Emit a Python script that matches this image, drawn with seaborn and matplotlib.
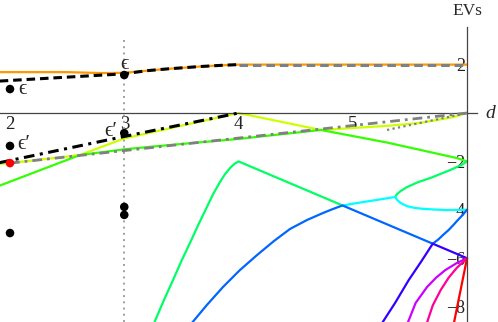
import numpy as np
import matplotlib
matplotlib.use("Agg")
import matplotlib.pyplot as plt
import matplotlib.colors as mcolors
import seaborn as sns

# eigenvalue branches (x = d, y = EV)
orange_x = [1.91, 2.5, 2.8, 3.0, 3.2, 3.37, 3.66, 3.85, 4.0, 6.0]
orange_y = [1.69, 1.69, 1.65, 1.66, 1.75, 1.82, 1.92, 1.97, 2.0, 2.0]

yellow_x = [1.91, 2.0, 2.61, 3.0, 4.0, 4.72, 5.0, 5.3, 5.59, 5.88, 6.0]
yellow_y = [-2.1, -2.07, -1.74, -1.05, 0.0, -0.70, -0.62, -0.53, -0.41, -0.17, 0.0]

green_x = [1.91, 2.61, 3.0, 3.31, 4.0, 4.72, 5.3, 5.91, 6.0]
green_y = [-3.0, -1.74, -1.50, -1.36, -1.07, -0.70, -1.22, -1.86, -2.0]

spring_x = [3.25, 3.35, 3.427, 3.50, 3.575, 3.65, 3.724, 3.78, 3.838,
            3.88, 3.926, 3.965, 4.0, 4.91]
spring_y = [-8.8, -7.7, -6.90, -6.12, -5.37, -4.60, -3.88, -3.33, -2.85,
            -2.54, -2.27, -2.10, -2.0, -3.82]
spring2_x = [5.37, 5.39, 5.42, 5.475, 5.57, 5.676, 5.851, 5.95, 6.0]
spring2_y = [-3.47, -3.34, -3.22, -3.06, -2.86, -2.69, -2.36, -2.15, -2.0]

cyan_x = [4.91, 5.09, 5.24, 5.37, 5.39, 5.42, 5.475, 5.54, 5.615, 5.72, 5.825, 6.0]
cyan_y = [-3.82, -3.68, -3.57, -3.47, -3.60, -3.72, -3.85, -3.92, -3.96, -3.99, -4.01, -4.0]

azure_x = [3.57, 3.72, 3.864, 4.01, 4.162, 4.31, 4.451, 4.60, 4.74, 4.83, 4.91,
           5.70, 5.75, 5.79, 5.84, 5.88, 5.92, 5.96, 6.0]
azure_y = [-8.8, -7.95, -7.19, -6.50, -5.87, -5.29, -4.79, -4.42, -4.13, -3.96, -3.82,
           -5.40, -5.22, -5.04, -4.83, -4.63, -4.42, -4.22, -4.0]

violet_x = [5.24, 5.37, 5.49, 5.60, 5.70, 6.0]
violet_y = [-8.8, -7.85, -6.9, -6.13, -5.40, -6.0]

magenta_x = [5.47, 5.55, 5.65, 5.73, 5.81, 5.91, 6.0]
magenta_y = [-8.8, -7.85, -7.19, -6.80, -6.49, -6.2, -6.0]

pink_x = [5.64, 5.70, 5.77, 5.84, 5.91, 6.0]
pink_y = [-8.8, -7.95, -7.31, -6.80, -6.4, -6.0]

red_x = [5.88, 6.0]
red_y = [-8.8, -6.0]

# approximations (black / gray)
black_dash_x = [1.91, 3.0, 3.2, 3.37, 3.66, 3.85, 4.0]
black_dash_y = [1.32, 1.62, 1.75, 1.82, 1.92, 1.97, 2.0]
gray_dash_x = [4.0, 6.0]
gray_dash_y = [2.0, 2.0]
black_dashdot_x = [1.91, 3.0, 4.0]
black_dashdot_y = [-2.05, -0.97, 0.0]
gray_dashdot_x = [2.0, 6.0]
gray_dashdot_y = [-2.07, 0.0]
gray_dot_x = [5.30, 6.0]
gray_dot_y = [-0.70, 0.0]

# points
dots_x = [2, 3, 2, 3, 3, 3, 2]
dots_y = [0.99, 1.57, -1.36, -0.83, -3.88, -4.21, -4.96]
red_dot = (2, -2.07)

xticks = [2, 3, 4, 5]
yticks = [-8, -6, -4, -2, 2]

sns.set_style("white")
plt.rcParams['font.family'] = ['Liberation Serif', 'DejaVu Serif']

fig = plt.figure(figsize=(4.98, 3.22), dpi=100)
ax = fig.add_axes([0, 0, 1, 1])


def hue(h):
    return mcolors.hsv_to_rgb((h % 1.0, 1, 1)) if h < 1 else (1, 0, 0)


def curve(x, y, color, lw=1.6, z=2, **kw):
    sns.lineplot(x=x, y=y, sort=False, estimator=None, color=color,
                 linewidth=lw, ax=ax, zorder=z, legend=False, **kw)


# vertical dotted line at d = 3
curve([3, 3], [3.0, -8.8], "#a0a0a0", lw=1.4, z=1, linestyle=(0, (1, 2.2)))

curve(orange_x, orange_y, hue(0.1))
curve(yellow_x, yellow_y, hue(0.2))
curve(green_x, green_y, hue(0.3))
curve(spring_x, spring_y, hue(0.4))
curve(spring2_x, spring2_y, hue(0.4))
curve(cyan_x, cyan_y, hue(0.5))
curve(azure_x, azure_y, hue(0.6))
curve(violet_x, violet_y, hue(0.7))
curve(magenta_x, magenta_y, hue(0.8))
curve(pink_x, pink_y, hue(0.9))
curve(red_x, red_y, hue(1.0))

curve(black_dash_x, black_dash_y, "black", lw=2.2, z=3, linestyle=(0, (2.8, 1.6)))
curve(gray_dash_x, gray_dash_y, "gray", lw=2.2, z=3, linestyle=(0, (2.8, 1.6)))
curve(black_dashdot_x, black_dashdot_y, "black", lw=2.2, z=3,
      linestyle=(0, (3.5, 1.8, 1, 1.8)))
curve(gray_dashdot_x, gray_dashdot_y, "gray", lw=2.0, z=3,
      linestyle=(0, (3.5, 1.8, 1, 1.8)))
curve(gray_dot_x, gray_dot_y, "gray", lw=1.6, z=3, linestyle=(0, (1, 1.5)))

sns.scatterplot(x=dots_x, y=dots_y, color="black", s=38, edgecolor="none",
                ax=ax, zorder=4)
sns.scatterplot(x=[red_dot[0]], y=[red_dot[1]], color="red", s=38,
                edgecolor="none", ax=ax, zorder=4)

# labels of the points
eps = "\u03f5"
ax.text(2.11, 0.97, eps, fontsize=15, ha="center", va="center")
ax.text(3.0, 2.0, eps, fontsize=15, ha="center", va="center")
ax.text(2.12, -1.29, eps + "\u2032", fontsize=15, ha="center", va="center")
ax.text(2.88, -0.75, eps + "\u2032", fontsize=15, ha="center", va="center")

# axes in Mathematica style: crossing at (6, 0)
ax.set_xlim(1.9125, 6.271)
ax.set_ylim(-8.636, 4.67)
for s in ["top", "right"]:
    ax.spines[s].set_visible(False)
ax.spines["bottom"].set_position(("data", 0))
ax.spines["left"].set_position(("data", 6))
ax.spines["bottom"].set_bounds(1.9125, 6.09)
ax.spines["left"].set_bounds(-8.636, 3.55)
for s in ["bottom", "left"]:
    ax.spines[s].set_color("#444444")
    ax.spines[s].set_linewidth(0.9)

ax.set_xticks(xticks)
ax.set_xticklabels([str(t) for t in xticks])
ax.set_xticks(np.arange(2.2, 6.01, 0.2), minor=True)
ax.set_yticks(yticks)
ax.set_yticklabels([f"\u2212{abs(t)}" if t < 0 else str(t) for t in yticks])
ax.set_yticks(np.arange(-8.5, 3.6, 0.5), minor=True)
ax.tick_params(which="major", direction="in", length=5, width=0.8,
               color="#444444", labelsize=13.5, labelcolor="#222222", pad=2)
ax.tick_params(which="minor", direction="in", length=3, width=0.7,
               color="#444444")
ax.tick_params(axis="y", pad=1.5, labelsize=13)

ax.text(6.20, 0.0, "d", fontsize=14, style="italic", ha="center", va="center")
ax.text(6.0, 4.2, "EVs", fontsize=12.5, ha="center", va="center")

plt.savefig("out.png", dpi=100)
